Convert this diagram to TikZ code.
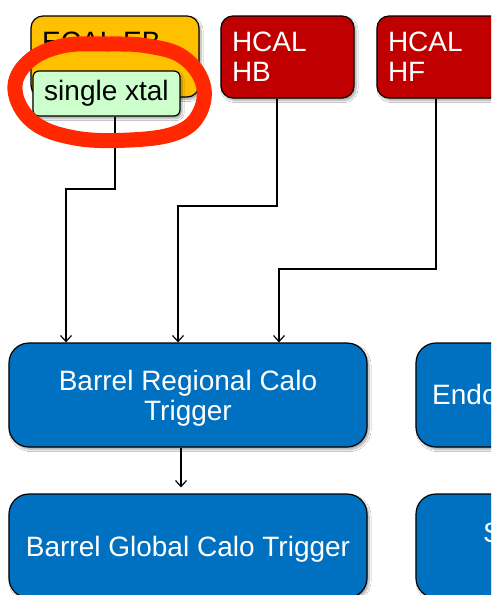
\documentclass[tikz,border=0pt]{standalone}
\usepackage{fontspec}
\setmainfont{Liberation Sans}
\usetikzlibrary{arrows.meta,shadows.blur}
\definecolor{ecalorange}{HTML}{FFC000}
\definecolor{xtalgreen}{HTML}{CCFFCC}
\definecolor{hcalred}{HTML}{C00000}
\definecolor{trigblue}{HTML}{0070C0}
\definecolor{markred}{RGB}{255,40,0}
\tikzset{
  box/.style={draw=black, line width=1.2pt, inner sep=0pt,
    font=\fontsize{28pt}{30pt}\selectfont,
    blur shadow={shadow xshift=2pt, shadow yshift=-2.5pt, shadow blur steps=6, shadow opacity=35}},
  ecal/.style={box, fill=ecalorange, rounded corners=12pt},
  xtalbox/.style={box, fill=xtalgreen, rounded corners=6pt},
  hcal/.style={box, fill=hcalred, text=white, rounded corners=12pt, align=left, inner xsep=11pt},
  trig/.style={box, fill=trigblue, text=white, rounded corners=20pt, align=center, text depth=0pt},
  lbl/.style={inner sep=0pt, font=\fontsize{28pt}{30pt}\selectfont},
  conn/.style={draw=black, line width=1.2pt, -{Straight Barb[length=6pt,width=11pt]}},
  circled/.style={draw=markred, line width=15pt, line cap=round, line join=round}
}
\begin{document}
\begin{tikzpicture}[x=1pt,y=-1pt]
  \useasboundingbox (0,0) rectangle (491,595);
  \fill[white] (0,0) rectangle (491,595);
  \clip (0,0) rectangle (491,595);

  % detector boxes
  \node[ecal, minimum width=168pt, minimum height=81pt] (ecal) at (115,56.5) {};
  \node[lbl, anchor=base west] (ecaltxt) at (42,51) {ECAL EB};
  \node[xtalbox, minimum width=147pt, minimum height=45pt] (xtal) at (106.5,93.5) {single xtal};
  \node[hcal, text width=111pt, minimum height=82pt] (hb) at (287.5,57) {HCAL\\HB};
  \node[hcal, text width=111pt, minimum height=82pt] (hf) at (443.5,57) {HCAL\\HF};

  % trigger boxes
  \node[trig, minimum width=358pt, minimum height=104pt] (brct) at (188,395) {Barrel Regional Calo\\Trigger};
  \node[trig, minimum width=358pt, minimum height=104pt] (erct) at (595,395) {};
  \node[lbl, text=white, anchor=base west] (ercttxt) at (432,404) {Endcap};
  \node[trig, minimum width=358pt, minimum height=104pt] (bgct) at (188,546) {Barrel Global Calo Trigger};
  \node[trig, minimum width=358pt, minimum height=104pt] (sbox) at (595,546) {};
  \node[lbl, text=white, anchor=base west] (sboxtxt) at (483,542) {S};

  % routing points
  \coordinate (j1) at (115,189);
  \coordinate (j1b) at (66,189);
  \coordinate (j2) at (277,206);
  \coordinate (j2b) at (178,206);
  \coordinate (j3) at (436,269);
  \coordinate (j3b) at (279,269);
  \coordinate (j4) at (181,0);

  % connectors
  \draw[conn] (xtal.south -| j1) -- (j1) -- (j1b) -- (j1b |- brct.north);
  \draw[conn] (hb.south -| j2) -- (j2) -- (j2b) -- (j2b |- brct.north);
  \draw[conn] (hf.south -| j3) -- (j3) -- (j3b) -- (j3b |- brct.north);
  \draw[conn, shorten >=6pt] (brct.south -| j4) -- (bgct.north -| j4);

  % hand-drawn ring
  \draw[circled] plot[smooth cycle, tension=0.65] coordinates {
    (15,90) (28,62) (62,46) (108,44) (148,46) (183,57)
    (203,84) (199,114) (176,133) (130,140) (75,138) (33,122)};
\end{tikzpicture}
\end{document}
